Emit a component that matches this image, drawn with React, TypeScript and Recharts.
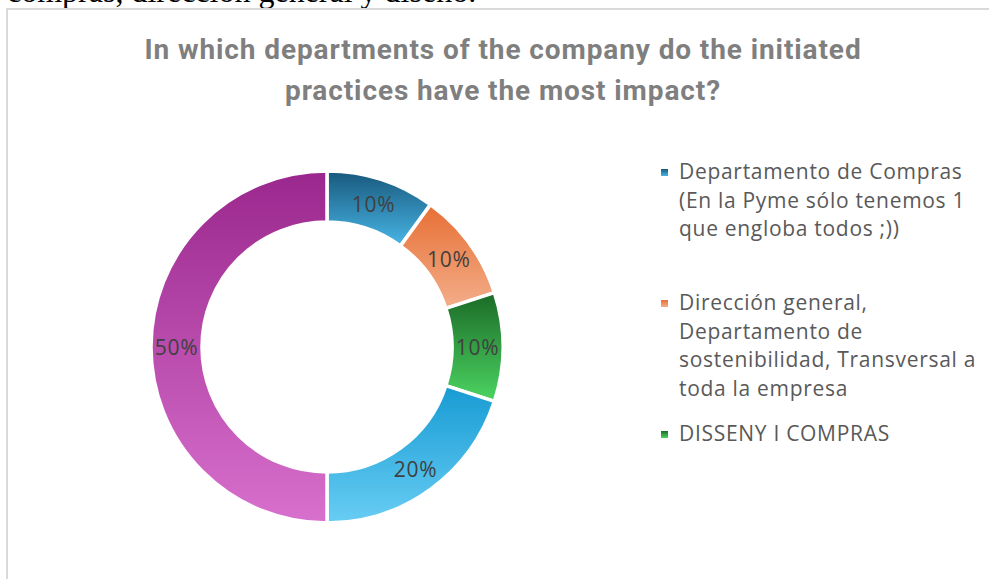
import React from 'react';
import { PieChart, Pie, Cell, Legend } from 'recharts';

const departments = [
  'Departamento de Compras (En la Pyme sólo tenemos 1 que engloba todos ;))',
  'Dirección general, Departamento de sostenibilidad, Transversal a toda la empresa',
  'DISSENY I COMPRAS',
  'Categoría 4',
  'Categoría 5',
];
const shares = [10, 10, 10, 20, 50];
const visibleLegendCount = 3;

// gradient stops per slice: top colour, bottom colour
const topColors = ['#18587c', '#e76f34', '#1b6a27', '#179bd3', '#9a278d'];
const bottomColors = ['#48b6e6', '#f3ae8a', '#4cd462', '#68cdf4', '#d870cd'];

const chartData = departments.map((name, i) => ({ name, value: shares[i] }));

const RADIAN = Math.PI / 180;

const renderLabel = (props: any) => {
  const { cx, cy, midAngle, innerRadius, outerRadius, value } = props;
  const r = (innerRadius + outerRadius) / 2;
  const x = cx + r * Math.cos(-midAngle * RADIAN);
  const y = cy + r * Math.sin(-midAngle * RADIAN);
  return (
    <text x={x} y={y} fill="#404040" fontSize={21} letterSpacing={0.7} fontFamily="'Open Sans', sans-serif"
      textAnchor="middle" dominantBaseline="central">
      {`${value}%`}
    </text>
  );
};

const renderLegend = () => (
  <div style={{ fontFamily: "'Open Sans', sans-serif", fontSize: 21, letterSpacing: 0.7, color: '#595959' }}>
    {departments.slice(0, visibleLegendCount).map((name, i) => (
      <div key={name} style={{ position: 'relative', height: 131, paddingLeft: 18 }}>
        <div style={{
          position: 'absolute', left: 0, top: 12, width: 7, height: 7,
          background: `linear-gradient(${topColors[i]}, ${bottomColors[i]})`,
        }} />
        <div style={{ width: 310, lineHeight: '28.5px' }}>{name}</div>
      </div>
    ))}
  </div>
);

const App: React.FC = () => {
  return (
    <div style={{ position: 'fixed', left: 0, top: 0, width: 989, height: 579, overflow: 'hidden', background: '#fff' }}>
      <div style={{
        position: 'absolute', left: 0, top: -25, whiteSpace: 'nowrap',
        fontFamily: "'Liberation Serif', serif", fontSize: 32, lineHeight: '32px', color: '#000', paddingLeft: 7,
      }}>
        compras, dirección general y diseño.
      </div>
      <div style={{
        position: 'absolute', left: 6, top: 8, width: 1100, height: 700,
        border: '2px solid #d9d9d9', boxSizing: 'border-box',
      }} />
      <div style={{
        position: 'absolute', left: 103, top: 29, width: 800, textAlign: 'center',
        fontFamily: 'Roboto, sans-serif', fontWeight: 700, fontSize: 28, letterSpacing: 0.9,
        lineHeight: '41px', color: '#7f7f7f',
      }}>
        In which departments of the company do the initiated<br />practices have the most impact?
      </div>
      <div style={{ position: 'absolute', left: 0, top: 0 }}>
        <PieChart width={989} height={579} margin={{ top: 0, right: 0, bottom: 0, left: 0 }}>
          <defs>
            {topColors.map((c, i) => (
              <linearGradient key={i} id={`slice${i}`} x1="0" y1="0" x2="0" y2="1">
                <stop offset="0%" stopColor={c} />
                <stop offset="100%" stopColor={bottomColors[i]} />
              </linearGradient>
            ))}
          </defs>
          <Pie
            data={chartData}
            dataKey="value"
            nameKey="name"
            cx={327}
            cy={347}
            innerRadius={125}
            outerRadius={176}
            startAngle={90}
            endAngle={-270}
            stroke="#ffffff"
            strokeWidth={3.5}
            label={renderLabel}
            labelLine={false}
            isAnimationActive={false}
          >
            {chartData.map((d, i) => (
              <Cell key={d.name} fill={`url(#slice${i})`} />
            ))}
          </Pie>
          <Legend
            layout="vertical"
            align="right"
            verticalAlign="top"
            content={renderLegend}
            wrapperStyle={{ position: 'absolute', left: 661, top: 157, width: 330 }}
          />
        </PieChart>
      </div>
    </div>
  );
};

export default App;
